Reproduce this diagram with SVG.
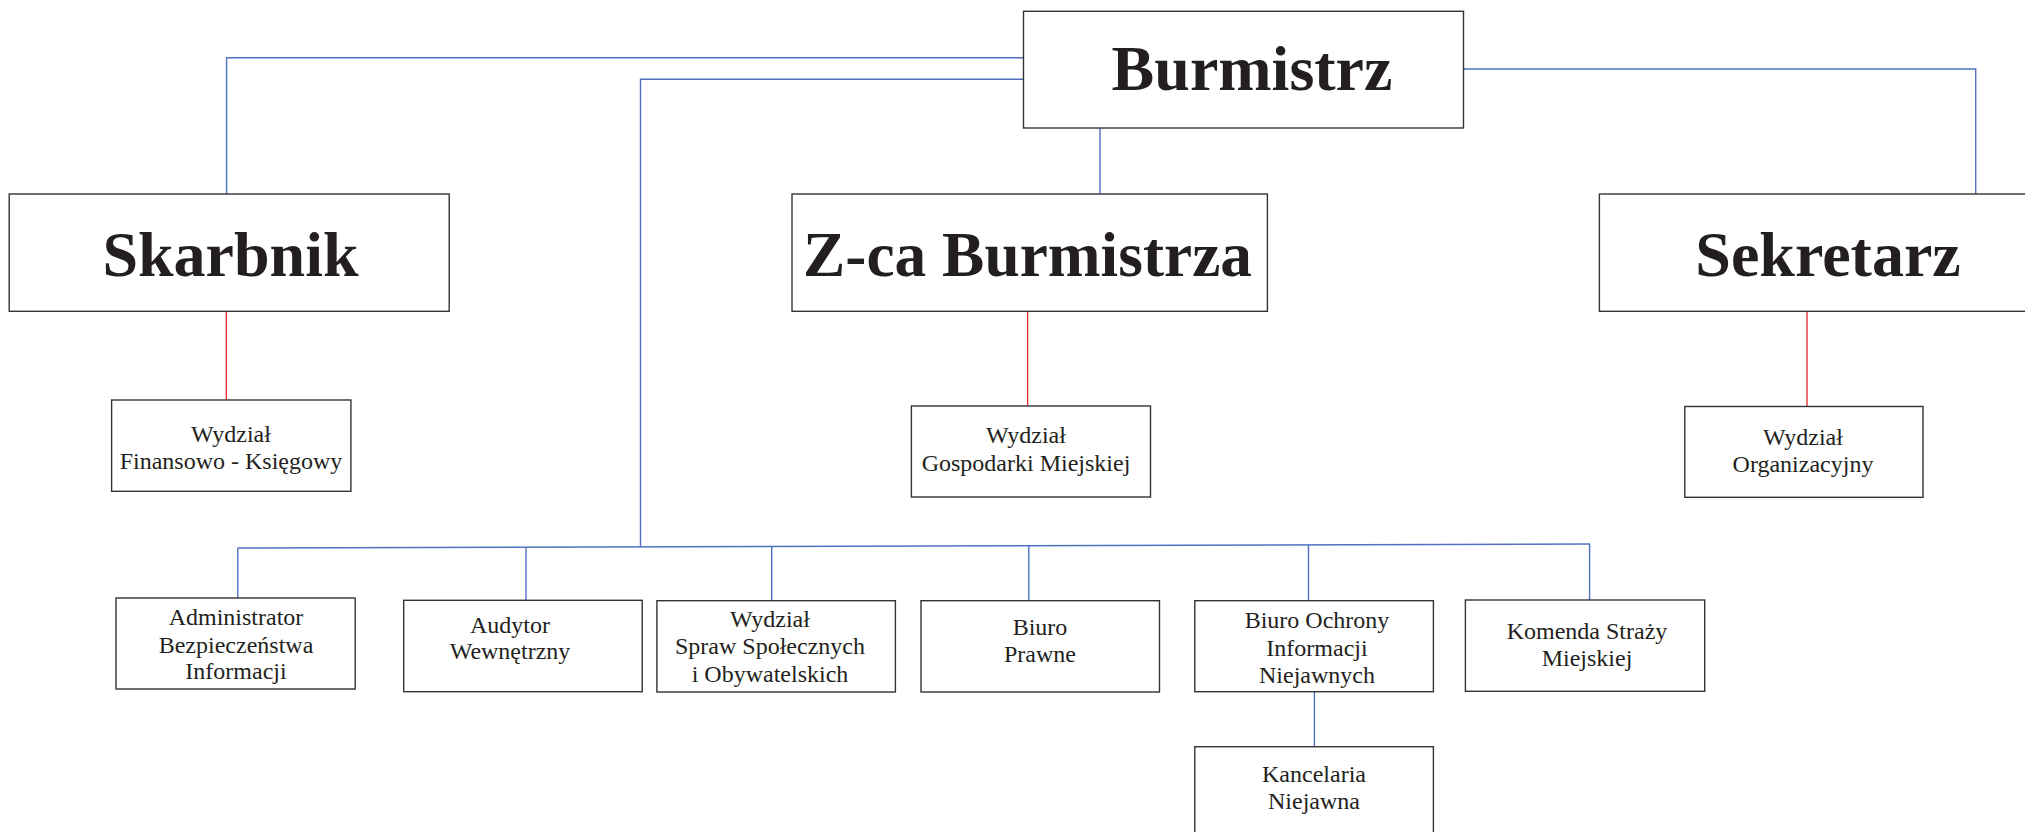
<svg xmlns="http://www.w3.org/2000/svg" width="2025" height="832" viewBox="0 0 2025 832">
<style>
.box{fill:#ffffff;stroke:#333333;stroke-width:1.4}
.big{font-family:"Liberation Serif","Times New Roman",serif;font-weight:bold;font-size:64px;fill:#231f20;text-anchor:middle}
.small{font-family:"Liberation Serif","Times New Roman",serif;font-size:24px;fill:#231f20;text-anchor:middle}
.blue{stroke:#5070c4;stroke-width:1.4;fill:none}
.red{stroke:#e8232b;stroke-width:1.3;fill:none}
</style>
<rect width="2025" height="832" fill="#ffffff"/>
<g id="connectors">
<polyline class="blue" points="1024,57.7 226.6,57.7 226.6,194"/>
<polyline class="blue" points="1024,79.3 640.5,79.3 640.5,546"/>
<line class="blue" x1="1100" y1="128" x2="1100" y2="194"/>
<polyline class="blue" points="1463.5,69 1975.7,69 1975.7,194"/>
<line class="blue" x1="237.5" y1="548" x2="1590" y2="544"/>
<line class="blue" x1="237.8" y1="548" x2="237.8" y2="598"/>
<line class="blue" x1="526" y1="547" x2="526" y2="600.3"/>
<line class="blue" x1="771.7" y1="546.5" x2="771.7" y2="600.7"/>
<line class="blue" x1="1028.8" y1="545.8" x2="1028.8" y2="600.7"/>
<line class="blue" x1="1308.5" y1="545" x2="1308.5" y2="600.7"/>
<line class="blue" x1="1589.6" y1="544" x2="1589.6" y2="600"/>
<line class="blue" x1="1314.4" y1="691.7" x2="1314.4" y2="746.7"/>
<line class="red" x1="226.3" y1="311.3" x2="226.3" y2="400"/>
<line class="red" x1="1027.6" y1="311.3" x2="1027.6" y2="406" stroke="#f0838a"/>
<line class="red" x1="1807" y1="311.3" x2="1807" y2="406.3" stroke="#c8444a"/>
</g>
<g id="burmistrz">
<rect class="box" x="1023.5" y="11.3" width="440" height="116.7"/>
<text class="big" x="1252" y="90">Burmistrz</text>
</g>
<g id="skarbnik">
<rect class="box" x="9.2" y="194" width="440" height="117.3"/>
<text class="big" x="230.5" y="276">Skarbnik</text>
</g>
<g id="zca">
<rect class="box" x="792" y="194" width="475.4" height="117.3"/>
<text class="big" x="1027.5" y="276" textLength="449" lengthAdjust="spacingAndGlyphs">Z-ca Burmistrza</text>
</g>
<g id="sekretarz">
<rect class="box" x="1599.4" y="194" width="460" height="117.3"/>
<text class="big" x="1828" y="276">Sekretarz</text>
</g>
<g id="finansowy">
<rect class="box" x="111.6" y="400" width="239.3" height="91.3"/>
<text class="small" x="231" y="441.7">Wydział</text>
<text class="small" x="231" y="469.3">Finansowo - Księgowy</text>
</g>
<g id="gospodarka">
<rect class="box" x="911.4" y="406" width="239.1" height="91"/>
<text class="small" x="1026" y="442.7">Wydział</text>
<text class="small" x="1026" y="470.7">Gospodarki Miejskiej</text>
</g>
<g id="organizacyjny">
<rect class="box" x="1684.8" y="406.5" width="238.2" height="90.8"/>
<text class="small" x="1803" y="444.7">Wydział</text>
<text class="small" x="1803" y="471.7">Organizacyjny</text>
</g>
<g id="abi">
<rect class="box" x="116" y="598" width="239.2" height="91"/>
<text class="small" x="236" y="625">Administrator</text>
<text class="small" x="236" y="652.7">Bezpieczeństwa</text>
<text class="small" x="236" y="679.3">Informacji</text>
</g>
<g id="audytor">
<rect class="box" x="403.7" y="600.3" width="238.5" height="91.4"/>
<text class="small" x="510" y="632.7">Audytor</text>
<text class="small" x="510" y="659.3">Wewnętrzny</text>
</g>
<g id="spraw">
<rect class="box" x="656.9" y="600.7" width="238.5" height="91.3"/>
<text class="small" x="770" y="626.7">Wydział</text>
<text class="small" x="770" y="654.3">Spraw Społecznych</text>
<text class="small" x="770" y="681.7">i Obywatelskich</text>
</g>
<g id="prawne">
<rect class="box" x="921" y="600.7" width="238.5" height="91.3"/>
<text class="small" x="1040" y="635">Biuro</text>
<text class="small" x="1040" y="662.3">Prawne</text>
</g>
<g id="ochrona">
<rect class="box" x="1194.8" y="600.7" width="238.6" height="91"/>
<text class="small" x="1317" y="628.3">Biuro Ochrony</text>
<text class="small" x="1317" y="656">Informacji</text>
<text class="small" x="1317" y="683.3">Niejawnych</text>
</g>
<g id="komenda">
<rect class="box" x="1465.4" y="600" width="239.3" height="91.3"/>
<text class="small" x="1587" y="639">Komenda Straży</text>
<text class="small" x="1587" y="666">Miejskiej</text>
</g>
<g id="kancelaria">
<rect class="box" x="1194.8" y="746.7" width="238.6" height="100"/>
<text class="small" x="1314" y="781.7">Kancelaria</text>
<text class="small" x="1314" y="809.3">Niejawna</text>
</g>
</svg>
